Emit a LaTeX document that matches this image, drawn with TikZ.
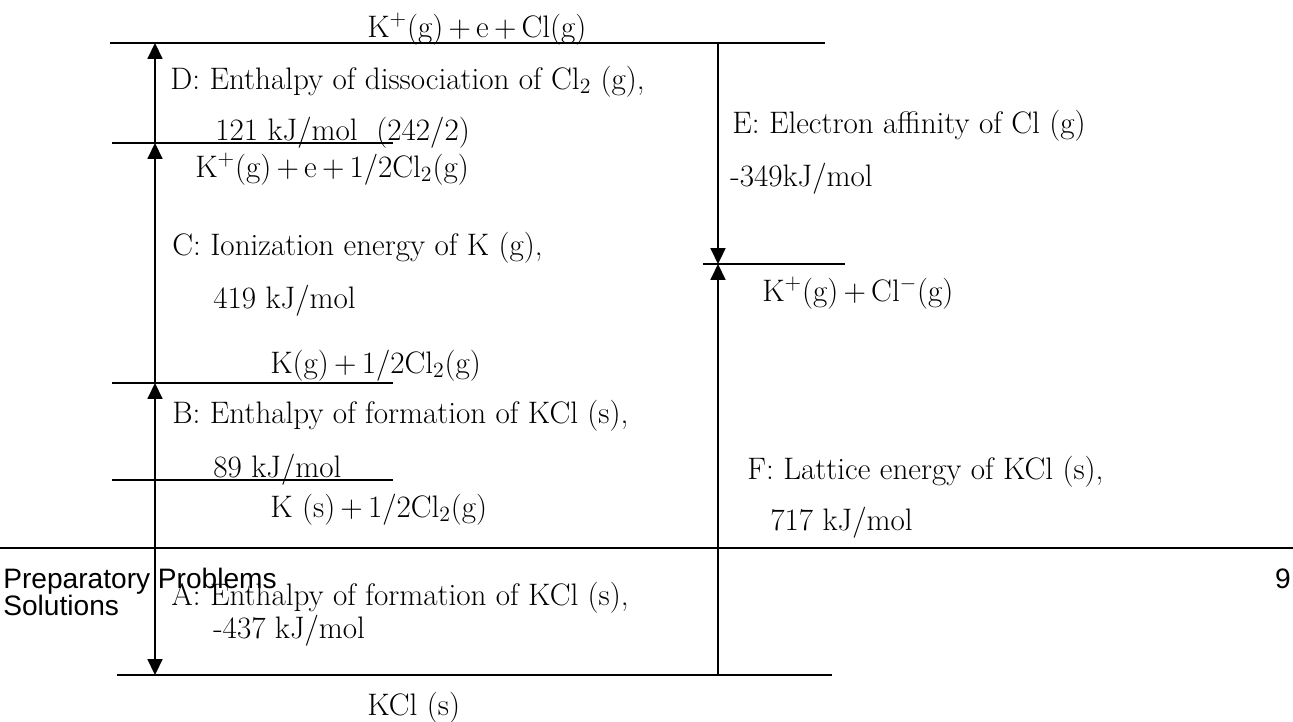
\documentclass[tikz,border=0pt]{standalone}
\usepackage{fontspec}
\newfontfamily\footfont{Liberation Sans}
\usetikzlibrary{arrows.meta}
\newcommand{\chemfont}{\fontsize{17.7}{21}\selectfont}

\begin{document}
\begin{tikzpicture}[
				      x=0.02cm, y=-0.02cm,
				      every node/.style = {inner sep=0pt, anchor=base west, font=\chemfont},
				      level/.style = {line width=0.75pt},
				      footline/.style = {line width=1.1pt},
				      trans/.style = {line width=0.9pt, -{Triangle[length=9pt, width=8.5pt]}},
				      foot/.style = {font=\footfont\fontsize{16}{18}\selectfont}
			      ]
			      \useasboundingbox (0,0) rectangle (1293,721);

			      \draw[level] (110,43) -- (825,43);
			      \draw[level] (112,143) -- (393,143);
			      \draw[level] (112,383) -- (393,383);
			      \draw[level] (112,480) -- (393,480);
			      \draw[level] (703,264) -- (845,264);
			      \draw[level] (117,675) -- (832,675);
			      \draw[footline] (0,548) -- (1293,548);

			      \coordinate (gasTop) at (155,43);
			      \coordinate (gasIon) at (155,143);
			      \coordinate (gasAtom) at (155,383);
			      \coordinate (solid) at (155,480);
			      \coordinate (saltL) at (155,675);
			      \coordinate (gasTopR) at (718,43);
			      \coordinate (ionPair) at (718,264);
			      \coordinate (saltR) at (718,675);

			      \draw[trans] (gasIon) -- (gasTop);
			      \draw[trans] (gasAtom) -- (gasIon);
			      \draw[trans] (solid) -- (gasAtom);
			      \draw[trans] (solid) -- (saltL);
			      \draw[trans] (gasTopR) -- (ionPair);
			      \draw[trans] (saltR) -- (ionPair);

			      \node (lvTop) at (367,37) {K\textsuperscript{+}(g)\,+\,e\,+\,Cl(g)};
			      \node (stepD) at (170,89) {D: Enthalpy of dissociation of Cl\textsubscript{2} (g),};
			      \node (valD) at (215,140) {121 kJ/mol~~(242/2)};
			      \node (lvIon) at (195,177) {K\textsuperscript{+}(g)\,+\,e\,+\,1/2Cl\textsubscript{2}(g)};
			      \node (stepC) at (172,255) {C: Ionization energy of K (g),};
			      \node (valC) at (213,308) {419 kJ/mol};
			      \node (lvAtom) at (270,373) {K(g)\,+\,1/2Cl\textsubscript{2}(g)};
			      \node (stepB) at (172,423) {B: Enthalpy of formation of KCl (s),};
			      \node (valB) at (213,477) {89 kJ/mol};
			      \node (lvSolid) at (270,517) {K (s)\,+\,1/2Cl\textsubscript{2}(g)};
			      \node (stepA) at (171,605) {A: Enthalpy of formation of KCl (s),};
			      \node (valA) at (213,638) {-437 kJ/mol};
			      \node (lvSalt) at (367,715) {KCl (s)};
			      \node (stepE) at (732,133) {E: Electron affinity of Cl (g)};
			      \node (valE) at (730,186) {-349kJ/mol};
			      \node (lvPair) at (762,301) {K\textsuperscript{+}(g)\,+\,Cl\textsuperscript{$-$}(g)};
			      \node (stepF) at (747,479) {F: Lattice energy of KCl (s),};
			      \node (valF) at (770,530) {717 kJ/mol};

			      \node[foot] (series) at (3,588) {Preparatory Problems};
			      \node[foot] (part) at (3,615) {Solutions};
			      \node[foot, anchor=base east] (page) at (1291,588) {9};
		      \end{tikzpicture}
\end{document}
